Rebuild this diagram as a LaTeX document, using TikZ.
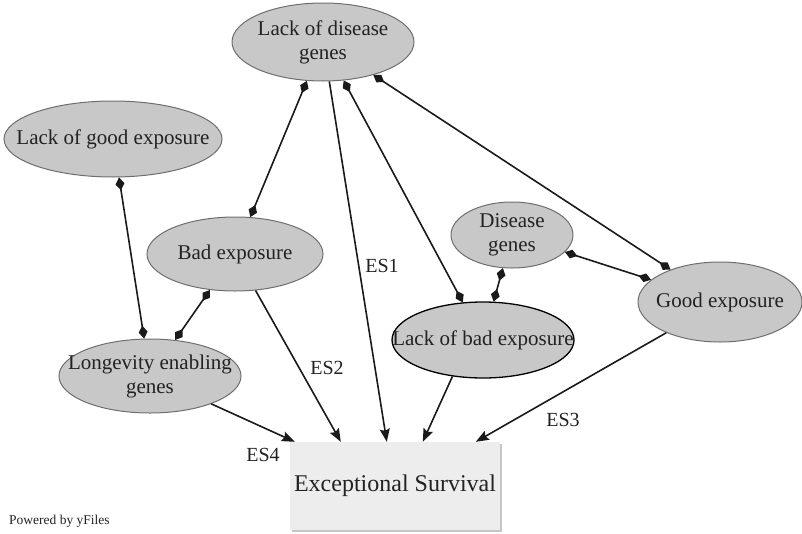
\documentclass[tikz,border=0pt]{standalone}
\usepackage{fontspec}
\setmainfont{Liberation Serif}
\usetikzlibrary{shapes.geometric,arrows.meta,calc,shadows}
\definecolor{ellfill}{HTML}{C8C8C8}
\definecolor{ellborder}{HTML}{6E6E6E}
\definecolor{edgec}{HTML}{1A1A1A}
\definecolor{boxfill}{HTML}{EDEDED}
\definecolor{textc}{HTML}{222222}
\begin{document}
\begin{tikzpicture}[x=1pt,y=-1pt,
  ell/.style={ellipse, draw=ellborder, fill=ellfill, line width=1pt, inner sep=0pt},
  txt/.style={align=center, inner sep=0pt, text=textc, font=\fontsize{21}{24}\selectfont},
  dd/.style={line width=1.6pt, draw=edgec,
    {Diamond[length=13pt,width=9pt]}-{Diamond[length=13pt,width=9pt]}},
  ar/.style={line width=1.6pt, draw=edgec, fill=edgec, -{Stealth[length=13pt,width=10pt,inset=2pt]}},
  lbl/.style={font=\fontsize{20}{24}\selectfont, text=textc, inner sep=0pt}]
\useasboundingbox (0,0) rectangle (802,533);

\node[ell, minimum width=182pt, minimum height=78pt] (ldg) at (323,42) {};
\node[ell, minimum width=218pt, minimum height=76pt] (lge) at (113,139) {};
\node[ell, minimum width=176pt, minimum height=74pt] (bad) at (235,254) {};
\node[ell, minimum width=182pt, minimum height=74pt] (lon) at (150,376) {};
\node[ell, minimum width=122pt, minimum height=66pt] (dis) at (512,235) {};
\node[ell, draw=black, line width=1.3pt, minimum width=182pt, minimum height=76pt] (lbe) at (483,340) {};
\node[ell, minimum width=164pt, minimum height=80pt] (good) at (720,302) {};

\node[txt] (ldg-t) at (ldg) {Lack of disease\\genes};
\node[txt] (lge-t) at (lge) {Lack of good exposure};
\node[txt] (bad-t) at (bad) {Bad exposure};
\node[txt] (lon-t) at (lon) {Longevity enabling\\genes};
\node[txt] (dis-t) at (dis) {Disease\\genes};
\node[txt] (lbe-t) at (lbe) {Lack of bad exposure};
\node[txt] (good-t) at (good) {Good exposure};

\node[rectangle, fill=boxfill, minimum width=210pt, minimum height=88pt, inner sep=0pt,
  drop shadow={shadow xshift=2pt, shadow yshift=-2pt, fill=gray!45, opacity=1},
  text=textc, font=\fontsize{24}{28}\selectfont] (es) at (395,486) {Exceptional Survival};

\coordinate (in4) at ($(es.north west)+(5,0)$);
\coordinate (in2) at ($(es.north west)+(51,0)$);
\coordinate (in1) at ($(es.north west)+(97,0)$);
\coordinate (inb) at ($(es.north west)+(133,0)$);
\coordinate (in3) at ($(es.north west)+(186,0)$);

\draw[dd] (ldg) -- (bad);
\draw[dd] (ldg) -- (lbe);
\draw[dd] (ldg) -- (good);
\draw[dd] (lge) -- (lon);
\draw[dd] (bad) -- (lon);
\draw[dd] (dis) -- (lbe);
\draw[dd] (dis) -- (good);

\draw[ar] (ldg) -- (in1);
\draw[ar] (bad) -- (in2);
\draw[ar] (lbe.230) -- (inb);
\draw[ar] (good) -- (in3);
\draw[ar] (lon) -- (in4);

\node[lbl] (es1) at (382,266) {ES1};
\node[lbl] (es2) at (327,368) {ES2};
\node[lbl] (es3) at (563,420) {ES3};
\node[lbl] (es4) at (263,455) {ES4};

\node[anchor=west, inner sep=0pt, text=textc, font=\fontsize{13.5}{16}\selectfont] (pw) at (9,521) {Powered by yFiles};
\end{tikzpicture}
\end{document}
